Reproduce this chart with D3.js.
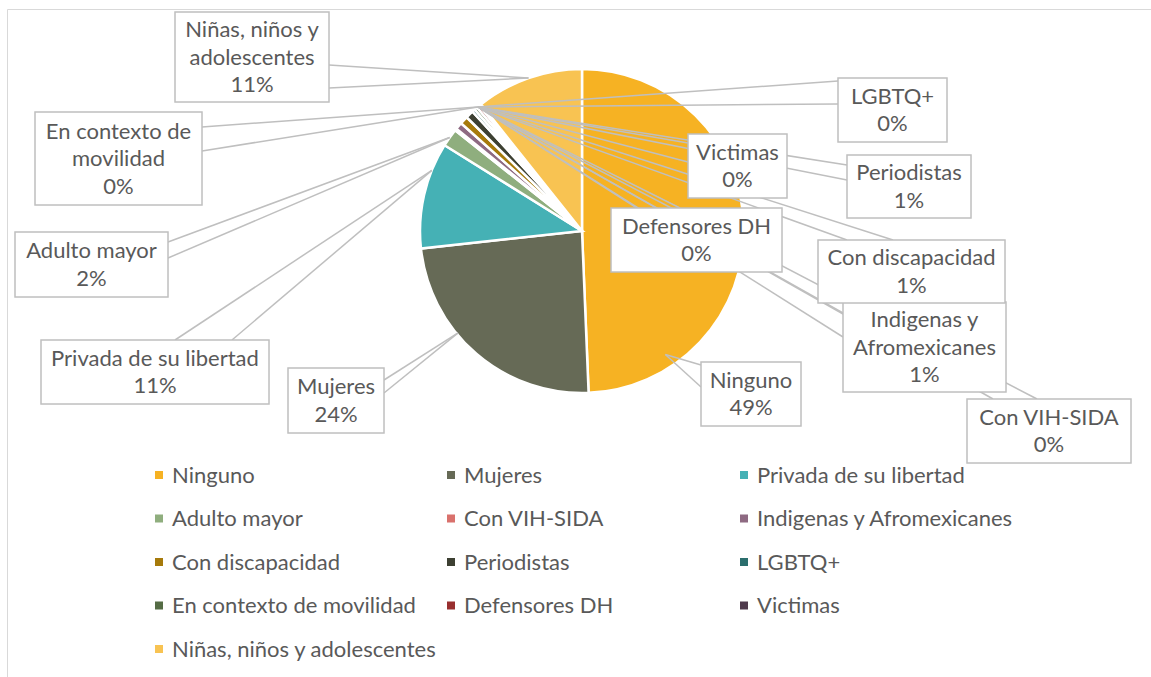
<!DOCTYPE html>
<html>
<head>
<meta charset="utf-8">
<script src="https://cdnjs.cloudflare.com/ajax/libs/d3/7.8.5/d3.min.js"></script>
<style>
  body { margin: 0; background: #fff; }
  text { font-family: Lato, "Open Sans", sans-serif; fill: #595959; }
</style>
</head>
<body>
<script>
// Pie of groups served, Excel-like callout labels
var width = 1151,
    height = 677;

var categories = ["Ninguno", "Mujeres", "Privada de su libertad", "Adulto mayor", "Con VIH-SIDA",
    "Indigenas y Afromexicanes", "Con discapacidad", "Periodistas", "LGBTQ+",
    "En contexto de movilidad", "Defensores DH", "Victimas", "Niñas, niños y adolescentes"];
var values = [49.3, 23.9, 10.6, 1.8, 0.2, 0.7, 0.8, 0.8, 0.3, 0.3, 0.3, 0.2, 10.7];
var colors = ["#f6b223", "#666a56", "#45b1b5", "#8fae7e", "#d9716c", "#8e6a82", "#a67a0b",
    "#3d4032", "#2b6e6d", "#556c45", "#982f2f", "#4f3a4c", "#f8c352"];

// callout boxes placed by hand, like the original sheet
var callouts = [
    { box: [701, 362, 100, 64], side: "left", base: [3, 25], angle: 146, rf: 0.92 },
    { box: [288, 368, 96, 65], side: "right", base: [12, 25], angle: 230.6, rf: 0.99 },
    { box: [41, 340, 228, 64], side: "top", base: [134, 191], angle: 292 },
    { box: [15, 232, 153, 65], side: "right", base: [10, 26] },
    { box: [967, 399, 164, 64], side: "top", base: [26, 70], angle: 320 },
    { box: [843, 302, 163, 90], side: "left", base: [11, 35], angle: 320 },
    { box: [818, 240, 187, 63], side: "top", base: [29, 75], angle: 320 },
    { box: [847, 155, 124, 63], side: "left", base: [10, 25], angle: 320 },
    { box: [838, 78, 109, 64], side: "left", base: [3, 26], angle: 320 },
    { box: [35, 112, 167, 93], side: "right", base: [15, 39], angle: 320 },
    { box: [611, 208, 171, 64], side: "top", base: [26, 69], angle: 320 },
    { box: [688, 134, 99, 64], side: "left", base: [9, 28], angle: 320 },
    { box: [175, 12, 154, 90], side: "right", base: [53, 76] }
];

var cx = 582, cy = 231, radius = 162;
var fontSize = 22;

var svg = d3.select("body").append("svg")
    .attr("width", width)
    .attr("height", height);

// chart frame (cut off on the right and bottom)
svg.append("path")
    .attr("d", "M7.5," + height + "V9.5H" + width)
    .style("fill", "none")
    .style("stroke", "#d9d9d9")
    .style("stroke-width", 1);

var data = categories.map(function(c, i) { return { name: c, v: values[i], i: i }; });
var total = d3.sum(values);

var pie = d3.pie().sort(null).value(function(d) { return d.v; });
var arcs = pie(data);

var arc = d3.arc().innerRadius(0).outerRadius(radius);

var g = svg.append("g").attr("transform", "translate(" + cx + "," + cy + ")");

g.selectAll("path")
    .data(arcs)
    .enter()
    .append("path")
    .attr("d", arc)
    .style("fill", function(d) { return colors[d.data.i]; })
    .style("stroke", "#fff")
    .style("stroke-width", 2.5);

// callouts
function wrap(words, maxW) {
    var probe = svg.append("text").style("font-size", fontSize + "px");
    var lines = [], cur = "";
    words.forEach(function(w) {
        var t = cur ? cur + " " + w : w;
        probe.text(t);
        if (cur && probe.node().getComputedTextLength() > maxW) {
            lines.push(cur);
            cur = w;
        } else cur = t;
    });
    lines.push(cur);
    probe.remove();
    return lines;
}

var lab = svg.append("g");

arcs.forEach(function(d) {
    var c = callouts[d.data.i];
    var x = c.box[0], y = c.box[1], w = c.box[2], h = c.box[3];
    var a = (c.angle != null ? c.angle * Math.PI / 180 : (d.startAngle + d.endAngle) / 2);
    var r = radius * (c.rf || 1);
    var tip = [cx + r * Math.sin(a), cy - r * Math.cos(a)];
    var b1, b2;
    if (c.side === "left") { b1 = [x, y + c.base[0]]; b2 = [x, y + c.base[1]]; }
    else if (c.side === "right") { b1 = [x + w, y + c.base[0]]; b2 = [x + w, y + c.base[1]]; }
    else { b1 = [x + c.base[0], y]; b2 = [x + c.base[1], y]; }

    var cg = lab.append("g");
    [b1, b2].forEach(function(b) {
        cg.append("line")
            .attr("x1", b[0]).attr("y1", b[1])
            .attr("x2", tip[0]).attr("y2", tip[1])
            .style("stroke", "#bfbfbf")
            .style("stroke-width", 1.5);
    });
    cg.append("rect")
        .attr("x", x).attr("y", y)
        .attr("width", w).attr("height", h)
        .style("fill", "#fff")
        .style("stroke", "#bfbfbf")
        .style("stroke-width", 1.5);

    var lines = wrap(d.data.name.split(" "), w - 8);
    lines.push(Math.round(d.data.v / total * 100) + "%");
    var lh = 27.5;
    var y0 = y + h / 2 - (lines.length - 1) * lh / 2;
    var t = cg.append("text")
        .attr("text-anchor", "middle")
        .style("font-size", fontSize + "px");
    lines.forEach(function(s, k) {
        t.append("tspan")
            .attr("x", x + w / 2)
            .attr("y", y0 + k * lh)
            .attr("dy", "0.35em")
            .text(s);
    });
});

// legend, three columns
var colX = [155, 447, 740],
    rowY = 475, rowStep = 43.5;

var leg = svg.append("g").selectAll("g")
    .data(data)
    .enter()
    .append("g")
    .attr("transform", function(d) {
        return "translate(" + colX[d.i % 3] + "," + (rowY + Math.floor(d.i / 3) * rowStep) + ")";
    });

leg.append("rect")
    .attr("x", 0).attr("y", -4)
    .attr("width", 8).attr("height", 8)
    .style("fill", function(d) { return colors[d.i]; });

leg.append("text")
    .attr("x", 17)
    .attr("dy", "0.35em")
    .style("font-size", fontSize + "px")
    .text(function(d) { return d.name; });
</script>
</body>
</html>
